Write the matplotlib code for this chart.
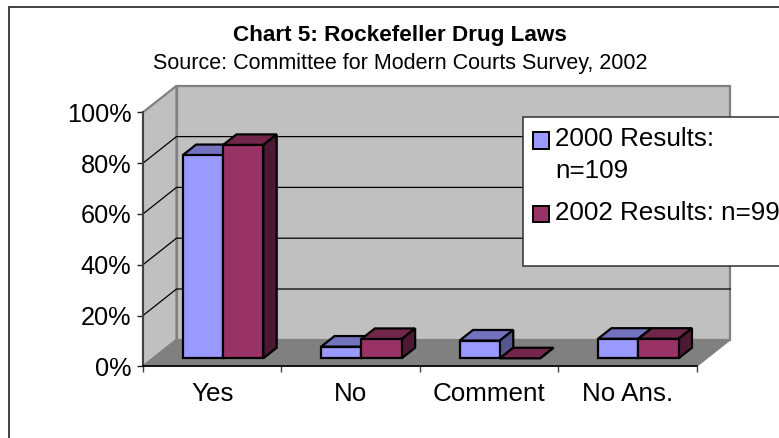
import matplotlib
matplotlib.use('Agg')
import matplotlib.pyplot as plt
from matplotlib.patches import Polygon, Rectangle

plt.rcParams['font.family'] = ['Liberation Sans', 'DejaVu Sans']

categories = ['Yes', 'No', 'Comment', 'No Ans.']
results_2000 = [80, 4.6, 7, 7.7]
results_2002 = [84, 7.6, 0, 7.7]
y_ticks = [0, 20, 40, 60, 80, 100]

W, H = 779, 438
# front plane of the 3d box, in pixels
LEFT, RIGHT, BOTTOM, TOP = 143, 696.7, 366.3, 112.3
# how far the back wall sits from the front plane, in data units
DEPTH_X = 33.5 / ((RIGHT - LEFT) / 4)
DEPTH_Y = 26.5 / ((BOTTOM - TOP) / 100)

BAR_W = 0.291
GAP = 0.2145
BAR_D0, BAR_D1 = 0.3, 0.7
FONT = 18.2
LABEL_FONT = 18.7


def pt(x, y, d):
    # depth d: 0 = front, 1 = back wall
    return (x + d * DEPTH_X, y + d * DEPTH_Y)


def poly(ax, pts, fc, ec='black', lw=1.6, z=3):
    ax.add_patch(Polygon(pts, closed=True, fc=fc, ec=ec, lw=lw, zorder=z,
                         clip_on=False, joinstyle='miter'))


def bar3d(ax, x, val, front, top, side, z):
    x2 = x + BAR_W
    poly(ax, [pt(x, val, BAR_D0), pt(x2, val, BAR_D0), pt(x2, val, BAR_D1), pt(x, val, BAR_D1)], top, z=z)
    poly(ax, [pt(x2, 0, BAR_D0), pt(x2, val, BAR_D0), pt(x2, val, BAR_D1), pt(x2, 0, BAR_D1)], side, z=z)
    if val > 0:
        poly(ax, [pt(x, 0, BAR_D0), pt(x2, 0, BAR_D0), pt(x2, val, BAR_D0), pt(x, val, BAR_D0)], front, z=z)


fig = plt.figure(figsize=(W / 100, H / 100), dpi=100)
ax = fig.add_axes([LEFT / W, 1 - BOTTOM / H, (RIGHT - LEFT) / W, (BOTTOM - TOP) / H])
ax.set_xlim(0, 4)
ax.set_ylim(0, 100)
ax.patch.set_visible(False)

# outer frame of the chart
fig.add_artist(Rectangle((8.5 / W, -0.1), 1, 1 - 6.5 / H + 0.1, transform=fig.transFigure,
                         fc='white', ec='#202020', lw=1.2, zorder=-5))

# walls and floor
wall_ec = '#808080'
poly(ax, [pt(0, 0, 1), pt(4, 0, 1), pt(4, 100, 1), pt(0, 100, 1)], '#C0C0C0', ec=wall_ec, lw=1.6, z=1)
poly(ax, [pt(0, 0, 0), pt(0, 0, 1), pt(0, 100, 1), pt(0, 100, 0)], '#C0C0C0', ec=wall_ec, lw=1.6, z=1)
poly(ax, [pt(0, 0, 0), pt(4, 0, 0), pt(4, 0, 1), pt(0, 0, 1)], '#808080', ec=wall_ec, lw=1, z=1.2)

for t in y_ticks[1:-1]:
    xs, ys = zip(pt(0, t, 0), pt(0, t, 1), pt(4, t, 1))
    ax.plot(xs, ys, color='black', lw=0.9, zorder=2, clip_on=False)

for i in range(len(categories)):
    x = i + GAP
    bar3d(ax, x, results_2000[i], '#9999FF', '#7272BF', '#56568F', 3 + i)
    bar3d(ax, x + BAR_W, results_2002[i], '#993366', '#722649', '#4C1933', 3.5 + i)

# axes
ax.spines['top'].set_visible(False)
ax.spines['right'].set_visible(False)
ax.spines['left'].set_color('#404040')
ax.spines['left'].set_linewidth(1.4)
ax.spines['bottom'].set_linewidth(1.2)
for s in ax.spines.values():
    s.set_zorder(20)
ax.set_yticks(y_ticks)
ax.set_yticklabels([f'{t}%' for t in y_ticks], fontsize=FONT)
ax.tick_params(axis='y', length=4.3, width=1, pad=4, color='#202020')
ax.set_xticks(range(5))
ax.set_xticklabels([])
ax.tick_params(axis='x', which='major', length=4.3, width=1, color='#404040')
ax.set_xticks([i + 0.5 for i in range(4)], minor=True)
ax.set_xticklabels(categories, minor=True, fontsize=LABEL_FONT)
ax.tick_params(axis='x', which='minor', length=0, pad=11)

# titles
fig.text(400 / W, 1 - 35 / H, 'Chart 5: Rockefeller Drug Laws', ha='center', va='center',
         fontsize=16.2, fontweight='bold')
fig.text(400 / W, 1 - 63.5 / H, 'Source: Committee for Modern Courts Survey, 2002', ha='center', va='center',
         fontsize=15.5)

# legend box runs off the right side of the picture
fig.add_artist(Rectangle((523 / W, 1 - 266 / H), 300 / W, 149.3 / H, transform=fig.transFigure,
                         fc='white', ec='#303030', lw=1.1, zorder=30))
legend_items = [('2000 Results:', '#9999FF', 140.5), ('2002 Results: n=99', '#993366', 214)]
for label, color, ypx in legend_items:
    fig.add_artist(Rectangle((532.5 / W, 1 - (ypx + 8.5) / H), 16.5 / W, 17 / H, transform=fig.transFigure,
                             fc=color, ec='black', lw=1.4, zorder=31))
    fig.text(555 / W, 1 - (ypx - 1.5) / H, label, ha='left', va='center', fontsize=LABEL_FONT, zorder=32)
fig.text(555 / W, 1 - 170.5 / H, 'n=109', ha='left', va='center', fontsize=LABEL_FONT, zorder=32)

fig.savefig('out.png', dpi=100)
